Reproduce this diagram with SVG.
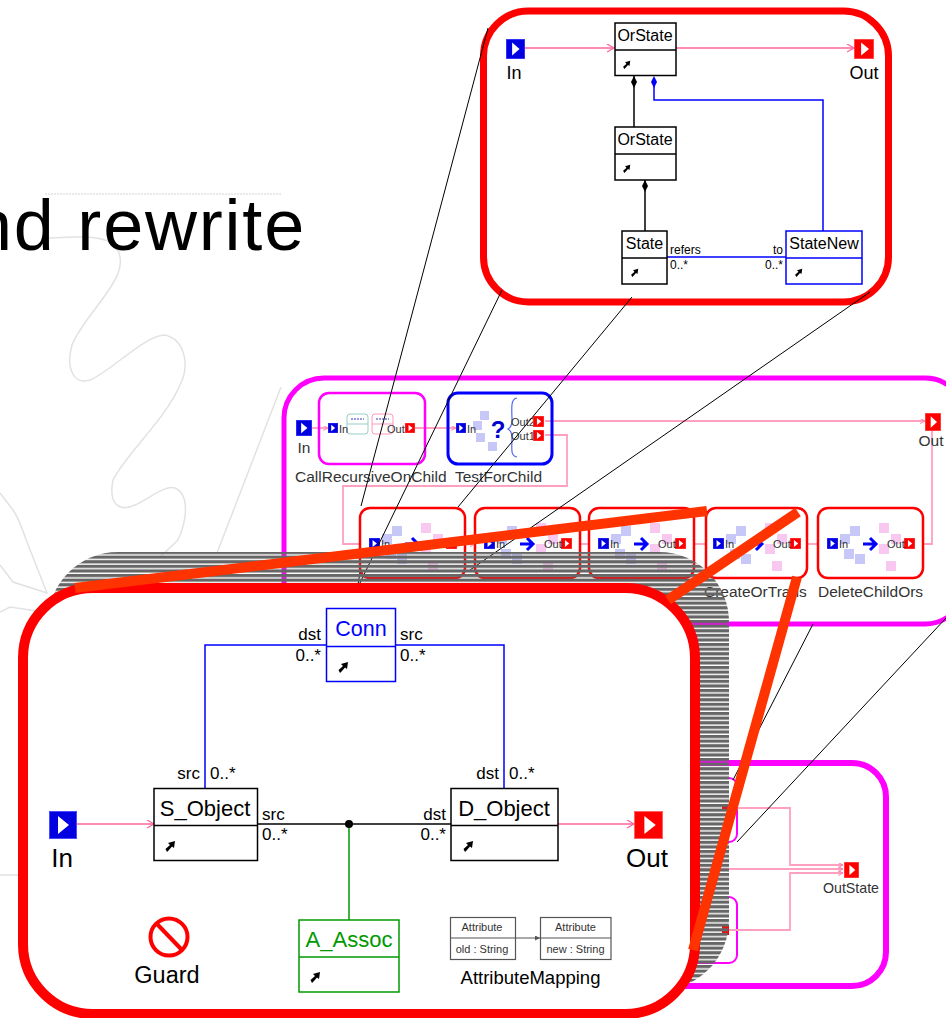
<svg xmlns="http://www.w3.org/2000/svg" xmlns:xlink="http://www.w3.org/1999/xlink" width="946" height="1018" viewBox="0 0 946 1018">
<style>
text{font-family:"Liberation Sans",Arial,sans-serif;fill:#000}
.bg{fill:none;stroke:#e2e2e2;stroke-width:1.5}
.pink{fill:none;stroke:#ff6699;stroke-width:1.5}
.pinkf{fill:none;stroke:#ffa0c0;stroke-width:1.8}
.blk{fill:none;stroke:#000;stroke-width:1.5}
.blu{fill:none;stroke:#0000ff;stroke-width:1.5}
.grn{fill:none;stroke:#009900;stroke-width:1.5}
.thin{fill:none;stroke:#000;stroke-width:1}
.org{fill:none;stroke:#ff3300;stroke-width:10}
.box{fill:#fff}
.m{text-anchor:middle}
.e{text-anchor:end}
.t13{font-size:14.2px}
.t14{font-size:15.5px}
.t16{font-size:16px}
.t17{font-size:17px}
.t18{font-size:18px}
.t22{font-size:22px}
.t24{font-size:26px}
.lav{fill:#c8c8f8}
.pk{fill:#f8c8f0}
.rb{fill:#fff;stroke:#ff0000;stroke-width:2.5}
.dim{fill:#333}
</style>
<defs>
<pattern id="hatch" width="10" height="4.6" patternUnits="userSpaceOnUse" y="551">
<rect width="10" height="3.2" fill="#666"/>
</pattern>
<marker id="arrP" markerWidth="10" markerHeight="10" refX="8" refY="4" orient="auto" markerUnits="userSpaceOnUse"><path d="M1 0L8 4L1 8" fill="none" stroke="#ff6699" stroke-width="1.3"/></marker>
<marker id="arrS" markerWidth="6" markerHeight="6" refX="5" refY="2.5" orient="auto" markerUnits="userSpaceOnUse"><path d="M0 0L5 2.5L0 5" fill="none" stroke="#ff80aa" stroke-width="1"/></marker>
<marker id="arrG" markerWidth="6" markerHeight="6" refX="5" refY="2.5" orient="auto" markerUnits="userSpaceOnUse"><path d="M0 0L5 2.5L0 5Z" fill="#555"/></marker>
<symbol id="inP" viewBox="0 0 28 28" preserveAspectRatio="none"><rect width="28" height="28" fill="#0000e0"/><rect width="28" height="28" fill="none" stroke="#4a4aff" stroke-width="2"/><path d="M9 5L20 14L9 23Z" fill="#fff"/></symbol>
<symbol id="outP" viewBox="0 0 28 28" preserveAspectRatio="none"><rect width="28" height="28" fill="#ff0000"/><rect width="28" height="28" fill="none" stroke="#ff6060" stroke-width="2"/><path d="M10 5L21 14L10 23Z" fill="#fff"/></symbol>
<symbol id="ptr" viewBox="0 0 12 12"><path d="M3 12L1.500 9L6 5L4 3L11 1L10 8L8 6.500L4.500 10.500Z" fill="#000"/></symbol>
<g id="flow">
<rect class="lav" x="32" y="18" width="10" height="10"/><rect class="lav" x="22" y="26" width="10" height="10"/><rect class="lav" x="26" y="41" width="10" height="10"/><rect class="lav" x="37" y="46" width="10" height="10"/>
<rect class="pk" x="61" y="15" width="10" height="10"/><rect class="pk" x="73" y="26" width="10" height="10"/><rect class="pk" x="61" y="36" width="10" height="10"/><rect class="pk" x="68" y="53" width="10" height="10"/>
<path d="M45 36H58M52 30L58 36L52 42" fill="none" stroke="#0000ff" stroke-width="3"/>
<use xlink:href="#inP" href="#inP" x="9" y="30" width="11" height="11"/>
<use xlink:href="#outP" href="#outP" x="86" y="30" width="11" height="11"/>
<text x="21" y="40" font-size="11" class="dim">In</text>
<text x="69" y="40" font-size="11" class="dim">Out</text>
</g>
</defs>

<g id="background">
<path class="bg" d="M48 238C70 237 95 235 110 242C125 252 122 270 112 285C100 305 80 325 72 345C65 370 75 385 90 380C110 372 145 335 165 335C185 340 190 365 180 385C165 420 125 455 113 480C108 505 120 512 135 505C150 498 165 485 175 488C190 495 187 520 178 540L160 557"/>
<path class="bg" d="M281 387L217 553"/>
<path class="bg" d="M45 194H281" stroke-dasharray="2 1"/>
<path class="bg" d="M0 493L13 510C20 520 24 535 27 542L47 593L13 582L0 565"/>
<path class="bg" d="M50 613L10 607L0 612"/>
<path class="bg" d="M0 875H18" stroke-width="2"/>
</g>

<text id="title" x="306" y="250" font-size="72" text-anchor="end" letter-spacing="1.8">nd rewrite</text>

<g id="rule-box">
<rect x="483.500" y="11" width="405" height="291" rx="45" fill="#fff" stroke="#ff0000" stroke-width="7"/>
<g id="top-connectors">
<path class="pink" d="M525 48H614" marker-end="url(#arrP)"/>
<path class="pink" d="M676 48H854" marker-end="url(#arrP)"/>
<path class="blk" d="M634 76V127"/><path d="M634 76L637 82L634 88L631 82Z" fill="#000"/>
<path class="blu" d="M654 85V100H823V231"/><path d="M654 76L657 82L654 88L651 82Z" fill="#0000ff"/>
<path class="blk" d="M645 180V231"/><path d="M645 180L648 186L645 192L642 186Z" fill="#000"/>
<path class="blu" d="M667 257H786"/>
</g>
<g id="top-in"><use xlink:href="#inP" href="#inP" x="506" y="39" width="19" height="20"/><text x="514" y="79" class="t18 m">In</text></g>
<g id="top-out"><use xlink:href="#outP" href="#outP" x="854" y="39" width="20" height="20"/><text x="864" y="79" class="t18 m">Out</text></g>
<g id="top-orstate1"><rect class="box blk" x="615" y="23" width="61" height="52.500"/><path class="blk" d="M615 50H676"/><text x="645" y="41" class="t16 m">OrState</text><use xlink:href="#ptr" href="#ptr" x="622" y="60" width="9" height="9"/></g>
<g id="top-orstate2"><rect class="box blk" x="615" y="127" width="61" height="53"/><path class="blk" d="M615 154H676"/><text x="645" y="145" class="t16 m">OrState</text><use xlink:href="#ptr" href="#ptr" x="622" y="164" width="9" height="9"/></g>
<g id="top-state"><rect class="box blk" x="622" y="231" width="45" height="53"/><path class="blk" d="M622 258H667"/><text x="644.500" y="249" class="t16 m">State</text><use xlink:href="#ptr" href="#ptr" x="630" y="268" width="9" height="9"/></g>
<g id="top-statenew"><rect class="box blu" x="786" y="231" width="76" height="53"/><path class="blu" d="M786 258H862"/><text x="824" y="249" class="t16 m">StateNew</text><use xlink:href="#ptr" href="#ptr" x="794" y="268" width="9" height="9"/></g>
<text x="670" y="254" font-size="12">refers</text><text x="670" y="269" font-size="12">0..*</text>
<text x="783" y="254" font-size="12" class="e">to</text><text x="783" y="269" font-size="12" class="e">0..*</text>
</g>

<g id="transform-box">
<rect x="284" y="378" width="681" height="246" rx="40" fill="#fff" stroke="#ff00ff" stroke-width="5"/>
<g id="mid-connectors">
<path class="pinkf" d="M312 428H328" marker-end="url(#arrS)"/>
<path class="pinkf" d="M415 428H456" marker-end="url(#arrS)"/>
<path class="pinkf" d="M545 421H925" marker-end="url(#arrS)"/>
<path class="pinkf" d="M545 435H567V486H343V544H368"/>
<path class="pinkf" d="M923 544H932V431"/>
<path class="pinkf" d="M465 544H475" marker-end="url(#arrS)"/>
<path class="pinkf" d="M580 544H598" marker-end="url(#arrS)"/>
<path class="pinkf" d="M694 544H713" marker-end="url(#arrS)"/>
<path class="pinkf" d="M801 544H827" marker-end="url(#arrS)"/>
</g>
<g id="mid-in"><use xlink:href="#inP" href="#inP" x="296" y="420" width="16" height="16"/><text x="304" y="453" class="t14 m dim">In</text></g>
<g id="mid-out"><use xlink:href="#outP" href="#outP" x="925" y="413" width="16" height="18"/><text x="931" y="446" class="t14 m dim">Out</text></g>
<g id="call-recursive">
<rect x="319" y="393" width="106" height="71" rx="10" fill="none" stroke="#ff00ff" stroke-width="2.500"/>
<rect x="347" y="414" width="21" height="20" rx="3" fill="#fff" stroke="#9cc" stroke-width="1"/><path d="M347 424H368" stroke="#9cc" stroke-width="1"/><path d="M351 419H364" stroke="#99d" stroke-width="2" stroke-dasharray="2 1"/>
<rect x="372" y="414" width="21" height="20" rx="3" fill="#fff" stroke="#f9b" stroke-width="1"/><path d="M372 424H393" stroke="#f9b" stroke-width="1"/><path d="M376 419H389" stroke="#99d" stroke-width="2" stroke-dasharray="2 1"/>
<use xlink:href="#inP" href="#inP" x="328" y="423" width="10" height="10"/><text x="339" y="433" font-size="11" class="dim">In</text>
<text x="387" y="433" font-size="11" class="dim">Out</text><use xlink:href="#outP" href="#outP" x="405" y="423" width="10" height="10"/>
<text x="295" y="482" class="t14 dim">CallRecursiveOnChild</text>
</g>
<g id="test-for-child">
<rect x="448" y="393" width="104" height="71" rx="10" fill="none" stroke="#0000ff" stroke-width="3"/>
<rect class="lav" x="480" y="411" width="9" height="9"/><rect class="lav" x="473" y="421" width="9" height="9"/><rect class="lav" x="476" y="433" width="9" height="9"/><rect class="lav" x="488" y="442" width="9" height="9"/>
<use xlink:href="#inP" href="#inP" x="456" y="423" width="10" height="10"/><text x="467" y="433" font-size="11" class="dim">In</text>
<text x="498" y="438" font-size="24" font-weight="bold" class="m" style="fill:#0000cc">?</text>
<path d="M517 398C510 399 512 410 512 420C512 426 510 428 508 429C510 430 512 432 512 438C512 448 510 456 517 457" fill="none" stroke="#5566ee" stroke-width="1.200"/>
<text x="511" y="426" font-size="11" class="dim">Out2</text><text x="511" y="440" font-size="11" class="dim">Out1</text>
<use xlink:href="#outP" href="#outP" x="533" y="416" width="11" height="11"/><use xlink:href="#outP" href="#outP" x="533" y="430" width="11" height="11"/>
<text x="455" y="482" class="t14 dim">TestForChild</text>
</g>
<g id="step-1"><rect class="rb" x="360" y="508" width="105" height="70" rx="10"/><use xlink:href="#flow" href="#flow" transform="translate(360 508)"/></g>
<g id="step-2"><rect class="rb" x="475" y="508" width="105" height="70" rx="10"/><use xlink:href="#flow" href="#flow" transform="translate(475 508)"/></g>
<g id="step-3"><rect class="rb" x="589" y="508" width="105" height="70" rx="10"/><use xlink:href="#flow" href="#flow" transform="translate(589 508)"/></g>
<g id="step-4"><rect class="rb" x="706" y="508" width="101" height="70" rx="10"/><use xlink:href="#flow" href="#flow" transform="translate(704 508)"/><text x="704" y="597" class="t14 dim">CreateOrTrans</text></g>
<g id="step-5"><rect class="rb" x="818" y="508" width="105" height="70" rx="10"/><use xlink:href="#flow" href="#flow" transform="translate(818 508)"/><text x="818" y="597" class="t14 dim">DeleteChildOrs</text></g>
</g>

<g id="lower-box">
<rect x="600" y="763" width="286" height="223" rx="34" fill="#fff" stroke="#ff00ff" stroke-width="6"/>
<rect x="630" y="778" width="107" height="64" rx="8" fill="none" stroke="#ff00ff" stroke-width="2"/>
<rect x="630" y="897" width="107" height="66" rx="8" fill="none" stroke="#ff00ff" stroke-width="2"/>
<g id="lower-connectors">
<path class="pinkf" d="M729 808H790V865H843" marker-end="url(#arrS)"/>
<path class="pinkf" d="M695 869H843" marker-end="url(#arrS)"/>
<path class="pinkf" d="M729 930H790V873H843" marker-end="url(#arrS)"/>
</g>
<rect x="722" y="925" width="7" height="10" fill="#ff0000"/>
<rect x="722" y="806" width="7" height="4" fill="#ff0000"/>
<g id="outstate"><use xlink:href="#outP" href="#outP" x="844" y="862" width="15" height="16"/><text x="851" y="893" class="t13 m dim">OutState</text></g>
</g>

<g id="zoom-lines">
<path class="thin" d="M488 28L361 506M360 572L358 585"/>
<path class="thin" d="M502 290L359 585"/>
<path class="thin" d="M632 297L458 507"/>
<path class="thin" d="M870 292L470 570"/>
<path class="thin" d="M813 624L733 780"/>
<path class="thin" d="M946 618L737 842"/>
</g>

<rect id="shadow" x="48" y="552" width="681" height="438" rx="70" fill="url(#hatch)"/>

<g id="main-box">
<rect x="23" y="588" width="672" height="426" rx="70" fill="#fff" stroke="#ff0000" stroke-width="10"/>
<g id="main-connectors">
<path class="blu" d="M326 645H205V788"/>
<path class="blu" d="M396 645H504V788"/>
<path class="blk" d="M257 824H451"/>
<path class="grn" d="M349 824V920"/>
<circle cx="349" cy="824" r="4" fill="#000"/>
<path class="pink" d="M77 824H154" marker-end="url(#arrP)"/>
<path class="pink" d="M558 824H634" marker-end="url(#arrP)"/>
</g>
<g id="main-conn"><rect class="box blu" x="326.500" y="608.500" width="69" height="73"/><path class="blu" d="M326.500 646.500H395.500"/><text x="361" y="636" font-size="21.500" class="m" style="fill:#0000ff">Conn</text><use xlink:href="#ptr" href="#ptr" x="337" y="661" width="12" height="12"/></g>
<g id="main-s-object"><rect class="box blk" x="154" y="788.500" width="103.500" height="72"/><path class="blk" d="M154 825.500H257.500"/><text x="205" y="816" class="t22 m">S_Object</text><use xlink:href="#ptr" href="#ptr" x="164" y="840" width="12" height="12"/></g>
<g id="main-d-object"><rect class="box blk" x="451" y="788.500" width="107" height="72"/><path class="blk" d="M451 825.500H558"/><text x="504" y="816" class="t22 m">D_Object</text><use xlink:href="#ptr" href="#ptr" x="462" y="840" width="12" height="12"/></g>
<g id="main-a-assoc"><rect class="box grn" x="299" y="920" width="100" height="72"/><path class="grn" d="M299 957H399"/><text x="349" y="947" class="t22 m" style="fill:#009900">A_Assoc</text><use xlink:href="#ptr" href="#ptr" x="309" y="971" width="12" height="12"/></g>
<g id="main-in"><use xlink:href="#inP" href="#inP" x="49" y="811" width="28" height="28"/><text x="62" y="867" class="t24 m">In</text></g>
<g id="main-out"><use xlink:href="#outP" href="#outP" x="634" y="811" width="29" height="28"/><text x="647" y="867" class="t24 m">Out</text></g>
<g id="main-guard">
<circle cx="169" cy="937" r="18.500" fill="none" stroke="#ff0000" stroke-width="4"/><path d="M157 924L182 950" stroke="#ff0000" stroke-width="4"/>
<text x="167" y="983" font-size="23.500" class="m">Guard</text>
</g>
<g id="main-attrmap">
<rect x="450.500" y="917.500" width="65" height="42" fill="#fff" stroke="#555" stroke-width="1.200"/><path d="M450.500 938H515.500" stroke="#555" stroke-width="1.200"/>
<rect x="540.500" y="917.500" width="70.500" height="42" fill="#fff" stroke="#555" stroke-width="1.200"/><path d="M540.500 938H611" stroke="#555" stroke-width="1.200"/>
<path d="M515.500 938H540" stroke="#555" stroke-width="1" marker-end="url(#arrG)"/>
<text x="482" y="931" font-size="11" class="m dim">Attribute</text><text x="482" y="953" font-size="11" class="m dim">old : String</text>
<text x="575.500" y="931" font-size="11" class="m dim">Attribute</text><text x="575.500" y="953" font-size="11" class="m dim">new : String</text>
<text x="530.500" y="984" font-size="18.500" class="m">AttributeMapping</text>
</g>
<g id="main-labels">
<text x="321" y="640" class="e t17">dst</text><text x="321" y="661" class="e t17">0..*</text>
<text x="400" y="640" class="t17">src</text><text x="400" y="661" class="t17">0..*</text>
<text x="200" y="779" class="e t17">src</text><text x="210" y="779" class="t17">0..*</text>
<text x="499" y="779" class="e t17">dst</text><text x="509" y="779" class="t17">0..*</text>
<text x="262" y="820" class="t17">src</text><text x="262" y="840" class="t17">0..*</text>
<text x="446" y="820" class="e t17">dst</text><text x="446" y="840" class="e t17">0..*</text>
</g>
</g>

<g id="zoom-beams">
<path class="org" d="M75 588L707 511"/>
<path class="org" d="M798 512L668 600"/>
<path class="org" d="M797 577L693 950"/>
</g>
</svg>
